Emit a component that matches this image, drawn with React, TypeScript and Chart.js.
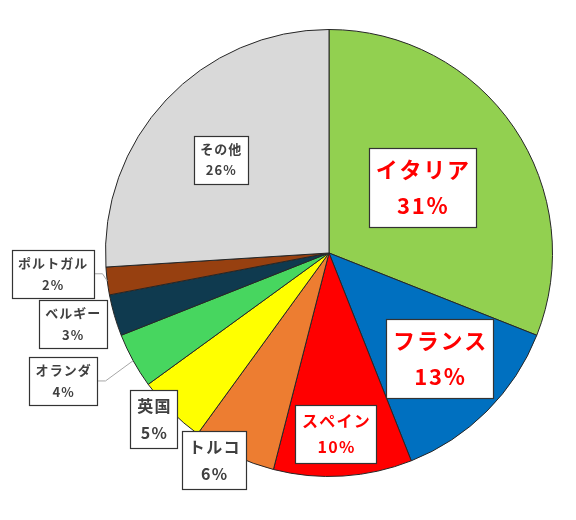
import { useEffect, useRef } from "react";
import { Chart, registerables } from "chart.js";

Chart.register(...registerables);

const countries = ["イタリア", "フランス", "スペイン", "トルコ", "英国", "オランダ", "ベルギー", "ポルトガル", "その他"];
const shares = [31, 13, 10, 6, 5, 4, 3, 2, 26];
const sliceColors = ["#92d050", "#0070c0", "#ff0000", "#ed7d31", "#ffff00", "#47d65f", "#0f3a4f", "#974010", "#d9d9d9"];

// label layout: distance from centre (fraction of radius), angle nudge (deg), font size
const labelDist = [0.51, 0.685, 0.81, 1.06, 1.08, 1.32, 1.19, 1.24, 0.64];
const labelNudge = [-0.8, -1.3, 1.4, 3.8, 1.5, 3.1, 0.7, 2.9, -2.4];
const labelSize = [22, 22, 16, 16, 16, 13, 13, 13, 13];
const labelColor = ["#ff0000", "#ff0000", "#ff0000", "#404040", "#404040", "#404040", "#404040", "#404040", "#404040"];
const hasLeader = [false, false, false, false, false, true, false, true, false];

const FONT = '"Noto Sans CJK JP", "Noto Sans", sans-serif';

const boxLabels = {
  id: "boxLabels",
  afterDatasetsDraw(chart: any) {
    const ctx: CanvasRenderingContext2D = chart.ctx;
    const arcs = chart.getDatasetMeta(0).data;
    arcs.forEach((arc: any, i: number) => {
      const { x, y, startAngle, endAngle, outerRadius } = arc.getProps(
        ["x", "y", "startAngle", "endAngle", "outerRadius"],
        true,
      );
      const mid = (startAngle + endAngle) / 2;
      const a = mid + (labelNudge[i] * Math.PI) / 180;
      const cx = x + Math.cos(a) * outerRadius * labelDist[i];
      const cy = y + Math.sin(a) * outerRadius * labelDist[i];
      const size = labelSize[i];
      const spacing = size * 0.08;
      const pct = shares[i] + "%";

      ctx.save();
      ctx.font = `bold ${size}px ${FONT}`;
      (ctx as any).letterSpacing = `${spacing}px`;
      const tw = Math.max(ctx.measureText(countries[i]).width, ctx.measureText(pct).width);
      const w = Math.round(tw + 12);
      const h = Math.round(size * 3.5 + 2);
      const left = Math.round(cx - w / 2) + 0.5;
      const top = Math.round(cy - h / 2) + 0.5;

      if (hasLeader[i]) {
        ctx.strokeStyle = "#a6a6a6";
        ctx.lineWidth = 1;
        ctx.beginPath();
        ctx.moveTo(x + Math.cos(mid) * outerRadius, y + Math.sin(mid) * outerRadius);
        ctx.lineTo(left + w + 8, cy);
        ctx.lineTo(left + w, cy);
        ctx.stroke();
      }

      ctx.fillStyle = "#ffffff";
      ctx.fillRect(left, top, w, h);
      ctx.strokeStyle = "#333333";
      ctx.lineWidth = 1.2;
      ctx.strokeRect(left, top, w, h);

      ctx.fillStyle = labelColor[i];
      ctx.textAlign = "center";
      ctx.textBaseline = "middle";
      ctx.fillText(countries[i], cx + spacing / 2, cy - size * 0.83);
      ctx.fillText(pct, cx + spacing / 2, cy + size * 0.83);
      ctx.restore();
    });
  },
};

export default function App() {
  const canvasRef = useRef<HTMLCanvasElement>(null);

  useEffect(() => {
    const canvas = canvasRef.current;
    if (!canvas) return;
    const chart = new Chart(canvas, {
      type: "pie",
      data: {
        labels: countries,
        datasets: [
          {
            data: shares,
            backgroundColor: sliceColors,
            borderColor: "#262626",
            borderWidth: 1,
          },
        ],
      },
      options: {
        responsive: true,
        maintainAspectRatio: false,
        animation: false,
        layout: { padding: { left: 105, top: 29, right: 23, bottom: 43 } },
        plugins: {
          legend: { display: false },
          tooltip: { enabled: false },
        },
      },
      plugins: [boxLabels],
    });
    return () => chart.destroy();
  }, []);

  return (
    <div style={{ position: "relative", width: 576, height: 520, margin: -8, background: "#fff" }}>
      <canvas ref={canvasRef} />
      <div
        style={{
          position: "absolute",
          inset: 0,
          border: "2px solid #d9d9d9",
          pointerEvents: "none",
        }}
      />
    </div>
  );
}
